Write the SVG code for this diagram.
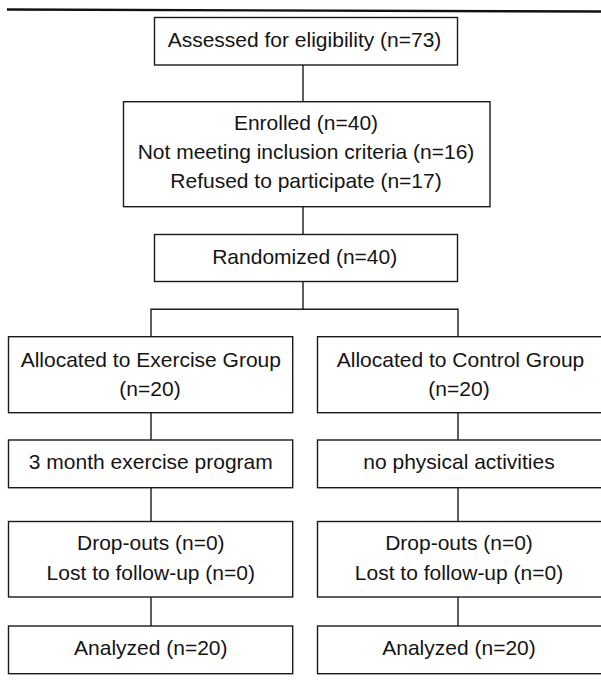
<svg xmlns="http://www.w3.org/2000/svg" width="601" height="682" viewBox="0 0 601 682">
<style>
.box{fill:#fff;stroke:#1a1a1a;stroke-width:1.4}
.ln{fill:none;stroke:#1a1a1a;stroke-width:1.4}
text{font-family:"Liberation Sans",Arial,sans-serif;font-size:21px;fill:#141414;text-anchor:middle}
</style>
<rect width="601" height="682" fill="#fff"/>
<line x1="7" y1="9.5" x2="601" y2="11.5" stroke="#111" stroke-width="2.4"/>
<g id="connectors">
<path class="ln" d="M303 65V101.7"/>
<path class="ln" d="M303 206.7V234.5"/>
<path class="ln" d="M303 281.5V309.3"/>
<path class="ln" d="M151 336.7V309.3H458V336.7"/>
<path class="ln" d="M151 412.7V440"/>
<path class="ln" d="M458 412.7V440"/>
<path class="ln" d="M151 487.7V521.5"/>
<path class="ln" d="M458 487.7V521.5"/>
<path class="ln" d="M151 597V626"/>
<path class="ln" d="M458 597V626"/>
</g>
<g id="assessed">
<rect class="box" x="154.5" y="17.5" width="303" height="47.5"/>
<text x="304.5" y="46.7">Assessed for eligibility (n=73)</text>
</g>
<g id="enrolled">
<rect class="box" x="123.5" y="101.7" width="366.5" height="105"/>
<text x="306" y="130">Enrolled (n=40)</text>
<text x="306" y="159.3">Not meeting inclusion criteria (n=16)</text>
<text x="306" y="188.3">Refused to participate (n=17)</text>
</g>
<g id="randomized">
<rect class="box" x="154.5" y="234.5" width="303" height="47"/>
<text x="304.7" y="264.3">Randomized (n=40)</text>
</g>
<g id="alloc-exercise">
<rect class="box" x="8.5" y="336.7" width="284.2" height="76"/>
<text x="150.8" y="366.7">Allocated to Exercise Group</text>
<text x="150" y="395.5">(n=20)</text>
</g>
<g id="alloc-control">
<rect class="box" x="317.5" y="336.7" width="285" height="76"/>
<text x="460.5" y="367">Allocated to Control Group</text>
<text x="459" y="396">(n=20)</text>
</g>
<g id="exercise-program">
<rect class="box" x="8.5" y="440" width="284.2" height="47.7"/>
<text x="150.8" y="469.3">3 month exercise program</text>
</g>
<g id="no-activities">
<rect class="box" x="317.5" y="440" width="285" height="47.7"/>
<text x="459" y="469.3">no physical activities</text>
</g>
<g id="dropouts-exercise">
<rect class="box" x="8.5" y="521.5" width="284.2" height="75.5"/>
<text x="150.8" y="550.3">Drop-outs (n=0)</text>
<text x="150.8" y="579.7">Lost to follow-up (n=0)</text>
</g>
<g id="dropouts-control">
<rect class="box" x="317.5" y="521.5" width="285" height="75.5"/>
<text x="459" y="550.3">Drop-outs (n=0)</text>
<text x="459" y="579.7">Lost to follow-up (n=0)</text>
</g>
<g id="analyzed-exercise">
<rect class="box" x="8.5" y="626" width="284.2" height="47.7"/>
<text x="150.8" y="654.7">Analyzed (n=20)</text>
</g>
<g id="analyzed-control">
<rect class="box" x="317.5" y="626" width="285" height="47.7"/>
<text x="459" y="654.7">Analyzed (n=20)</text>
</g>
</svg>
